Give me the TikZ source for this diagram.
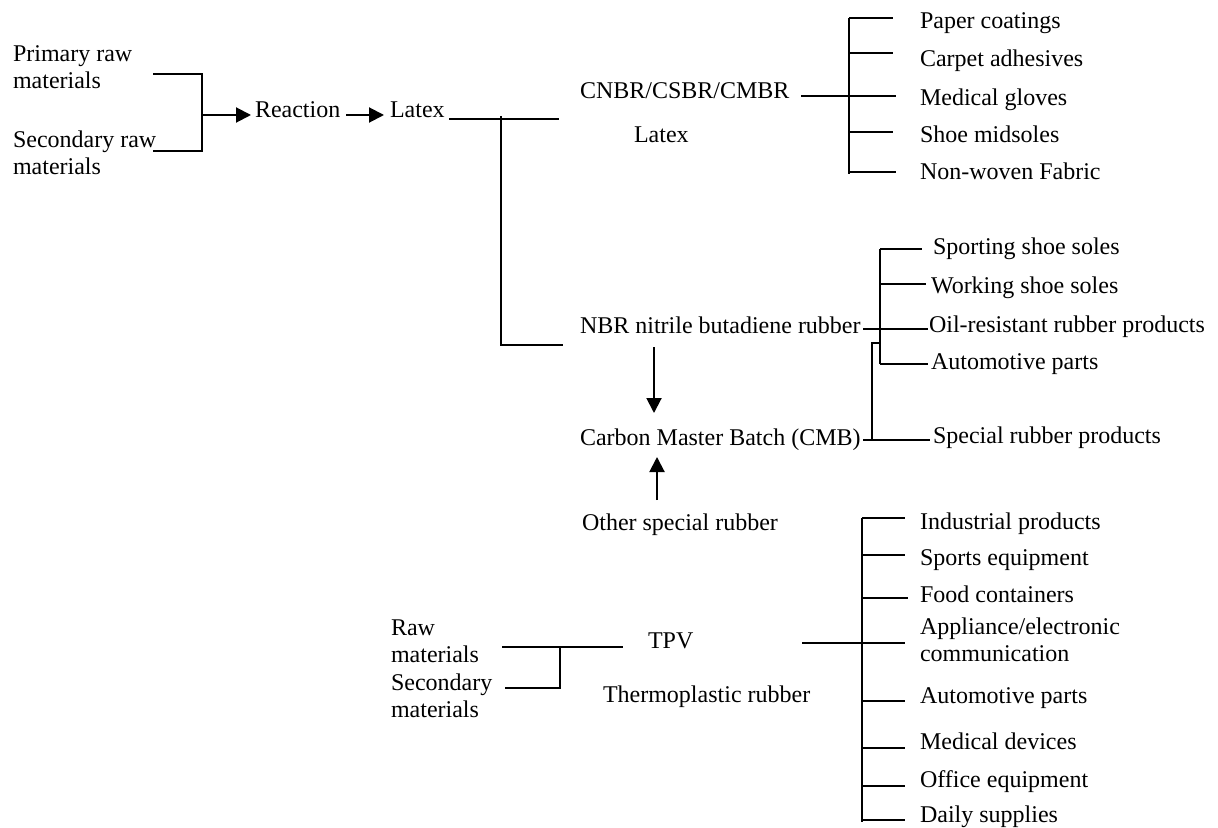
\documentclass[tikz,border=0pt]{standalone}
\usepackage{fontspec}
\setmainfont{Liberation Serif}
\usetikzlibrary{arrows.meta}
\begin{document}
\begin{tikzpicture}[x=0.5pt,y=-0.5pt,line width=1pt,
  lbl/.style={inner sep=0pt,anchor=base west,font=\fontsize{12}{13.5}\selectfont},
  ml/.style={lbl,align=left},
  arr/.style={-{Triangle[length=7.5pt,width=7.5pt]}}]
\useasboundingbox (0,0) rectangle (1218,828);

% ---------- top left ----------
\node[ml] (prim) at (12,89) {Primary raw\\materials};
\node[ml] (sec) at (12,175) {Secondary raw\\materials};
\coordinate (pa) at (153,74);
\coordinate (pb) at (153,151);
\coordinate (pj) at (202,115);
\draw (pa) -| (pj) |- (pb);
\node[lbl] (react) at (254,118) {Reaction};
\node[lbl] (latex) at (389,118) {Latex};
\coordinate (ra) at (346,115);
\draw[arr] (pj) -- (251,115);
\draw[arr] (ra) -- (384,115);

% ---------- latex split ----------
\coordinate (la) at (449,119);
\coordinate (lj) at (501,119);
\coordinate (lb) at (559,119);
\coordinate (lc) at (563,345);
\draw (la) -- (lb);
\draw ([yshift=1.5pt]lj) |- (lc);

\node[lbl] (cnbr) at (579,99) {CNBR/CSBR/CMBR};
\node[lbl] (latex2) at (633,143) {Latex};

% ---------- latex products ----------
\coordinate (ca) at (801,96);
\coordinate (cj) at (849,96);
\draw (ca) -- (cj);
\draw (849,18) -- (849,174);
\foreach \y/\x in {18/893,53/893,96/896,132/893,172/896}
  \draw (849,\y) -- (\x,\y);
\node[lbl] (p1) at (919,29) {Paper coatings};
\node[lbl] (p2) at (919,67) {Carpet adhesives};
\node[lbl] (p3) at (919,106) {Medical gloves};
\node[lbl] (p4) at (919,143) {Shoe midsoles};
\node[lbl] (p5) at (919,180) {Non-woven Fabric};

% ---------- NBR / CMB ----------
\node[lbl] (nbr) at (579,333) {NBR nitrile butadiene rubber};
\node[lbl] (cmb) at (579,445) {Carbon Master Batch (CMB)};
\node[lbl] (other) at (581,530) {Other special rubber};
\draw[arr] (654,347) -- (654,413);
\draw[arr] (657,500) -- (657,457);

\node[lbl] (n1) at (932,255) {Sporting shoe soles};
\node[lbl] (n2) at (930,293) {Working shoe soles};
\node[lbl] (n3) at (928,332) {Oil-resistant rubber products};
\node[lbl] (n4) at (930,369) {Automotive parts};
\node[lbl] (n5) at (932,443) {Special rubber products};

\draw (863,329) -- (928,329);
\draw (880,249) -- (880,364);
\draw (880,249) -- (922,249);
\draw (880,284) -- (926,284);
\draw (880,364) -- (928,364);
\draw (880,343) -- (872,343) -- (872,440);
\draw (863,440) -- (930,440);

% ---------- TPV ----------
\node[ml] (raw) at (390,662) {Raw\\materials};
\node[ml] (secm) at (390,717) {Secondary\\materials};
\draw (502,647) -- (623,647);
\draw (560,647) |- (505,688);
\node[lbl] (tpv) at (647,648) {TPV};
\node[lbl] (tpr) at (602,702) {Thermoplastic rubber};

\draw (802,643) -- (905,643);
\draw (862,518) -- (862,822);
\foreach \y/\x in {518/905,555/905,598/908,701/905,748/905,786/905,820/905}
  \draw (862,\y) -- (\x,\y);
\node[lbl] (t1) at (919,529) {Industrial products};
\node[lbl] (t2) at (919,565) {Sports equipment};
\node[lbl] (t3) at (919,602) {Food containers};
\node[ml] (t4) at (919,661) {Appliance/electronic\\communication};
\node[lbl] (t5) at (919,703) {Automotive parts};
\node[lbl] (t6) at (919,749) {Medical devices};
\node[lbl] (t7) at (919,787) {Office equipment};
\node[lbl] (t8) at (919,822) {Daily supplies};
\end{tikzpicture}
\end{document}
